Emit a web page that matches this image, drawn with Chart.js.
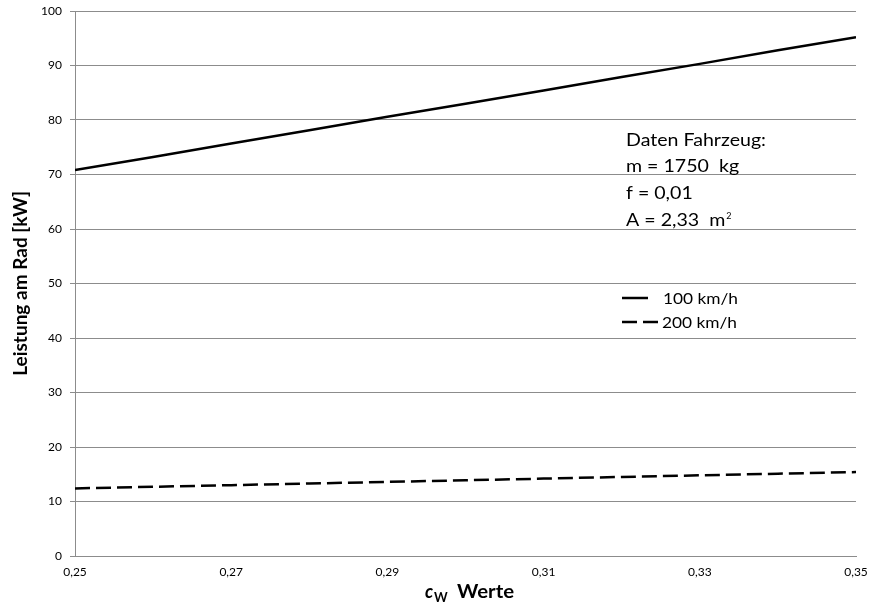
<!DOCTYPE html>
<html><head><meta charset="utf-8">
<script src="https://cdn.jsdelivr.net/npm/chart.js@4"></script>
<style>html,body{margin:0;padding:0;background:#fff}#wrap{width:871px;height:605px}</style>
</head><body><div id="wrap"><canvas id="c" width="871" height="605"></canvas></div>
<script>
const cwValues = [0.25,0.26,0.27,0.28,0.29,0.30,0.31,0.32,0.33,0.34,0.35];
const power200 = [70.8,73.2,75.7,78.1,80.6,83.0,85.4,87.9,90.3,92.8,95.2];
const power100 = [12.4,12.7,13.0,13.3,13.6,13.9,14.2,14.5,14.8,15.1,15.4];
const seriesLabels = ['100 km/h','200 km/h'];
const infoLines = ['Daten Fahrzeug:','m = 1750  kg','f = 0,01','A = 2,33  m'];
const FONT = 'Lato, "Open Sans", sans-serif';

const toPts = (xs, ys) => xs.map((x,i)=>({x, y: ys[i]}));

function drawScaled(ctx, text, x, y, s){
  ctx.save();
  ctx.translate(x, y);
  ctx.scale(s, 1);
  ctx.fillText(text, 0, 0);
  ctx.restore();
  return ctx.measureText(text).width * s;
}

const extras = {
  id:'extras',
  afterDraw(chart){
    const ctx = chart.ctx;
    ctx.save();
    ctx.fillStyle = '#000';
    ctx.textBaseline = 'alphabetic';
    ctx.textAlign = 'left';
    // info text
    ctx.font = '18px ' + FONT;
    const sInfo = 140 / ctx.measureText(infoLines[0]).width;
    const ys = [146,172,199,226];
    let lastW = 0;
    infoLines.forEach((t,i)=>{ lastW = drawScaled(ctx, t, 626, ys[i], sInfo); });
    ctx.font = '9px ' + FONT;
    ctx.fillText('2', 626 + lastW + 1, 219);
    // legend
    const ds = chart.data.datasets;
    ctx.font = '15px ' + FONT;
    const sLeg = 75 / ctx.measureText(seriesLabels[0]).width;
    const leg = [
      {style: ds[0], x1:622, x2:648, y:298, tx:663, label: seriesLabels[0]},
      {style: ds[1], x1:622, x2:659, y:322, tx:662, label: seriesLabels[1]}
    ];
    leg.forEach(l=>{
      ctx.beginPath();
      ctx.setLineDash(l.style.borderDash || []);
      ctx.lineWidth = l.style.borderWidth;
      ctx.strokeStyle = l.style.borderColor;
      ctx.moveTo(l.x1, l.y); ctx.lineTo(l.x2, l.y); ctx.stroke();
      ctx.setLineDash([]);
      drawScaled(ctx, l.label, l.tx, l.y + 6, sLeg);
    });
    // x axis title
    ctx.font = 'italic bold 18px ' + FONT;
    ctx.fillText('c', 425, 598);
    ctx.font = 'bold 13px ' + FONT;
    ctx.fillText('W', 434, 602);
    ctx.font = 'bold 18px ' + FONT;
    const sW = 57 / ctx.measureText('Werte').width;
    drawScaled(ctx, 'Werte', 457, 598, sW);
    ctx.restore();
  }
};

new Chart(document.getElementById('c'), {
  type:'line',
  data:{
    datasets:[
      {label: seriesLabels[0], data: toPts(cwValues, power200), borderColor:'#000', borderWidth:2.5, pointRadius:0, fill:false, tension:0},
      {label: seriesLabels[1], data: toPts(cwValues, power100), borderColor:'#000', borderWidth:2.5, borderDash:[15,6], pointRadius:0, fill:false, tension:0}
    ]
  },
  options:{
    responsive:false, animation:false,
    layout:{padding:{top:11,right:15,left:0,bottom:0}},
    plugins:{legend:{display:false}, tooltip:{enabled:false}},
    scales:{
      x:{type:'linear', min:0.25, max:0.35,
        afterFit(s){ s.height = 49; s.paddingLeft = 0; s.paddingRight = 0; },
        afterBuildTicks(s){ s.ticks = [0.25,0.27,0.29,0.31,0.33,0.35].map(v=>({value:v})); },
        ticks:{color:'#000', font:{size:12, family:FONT}, padding:9, maxRotation:0,
          callback:(v)=>Number(v).toFixed(2).replace('.',',')},
        grid:{display:false, drawTicks:false},
        border:{display:true, color:'#8c8c8c', width:1}
      },
      y:{min:0, max:100,
        afterFit(s){ s.width = 75; s.paddingTop = 0; s.paddingBottom = 0; },
        ticks:{stepSize:10, color:'#000', font:{size:12, family:FONT}, padding:8},
        grid:{color:'#8c8c8c', lineWidth:1, tickLength:5, drawTicks:true},
        border:{display:true, color:'#8c8c8c', width:1},
        title:{display:true, text:'Leistung am Rad [kW]', color:'#000', font:{size:19, weight:'bold', family:FONT}, padding:{top:9,bottom:4}}
      }
    }
  },
  plugins:[extras]
});
</script></body></html>
